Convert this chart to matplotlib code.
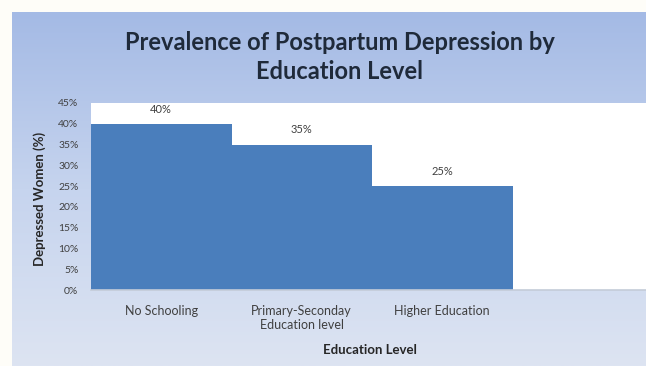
import numpy as np
import matplotlib
matplotlib.use("Agg")
import matplotlib.pyplot as plt
from matplotlib.colors import LinearSegmentedColormap

categories = ["No Schooling", "Primary-Seconday\nEducation level", "Higher Education"]
values = [40, 35, 25]
yticks = [0, 5, 10, 15, 20, 25, 30, 35, 40, 45]

plt.rcParams['font.family'] = ['Lato', 'DejaVu Sans']

W, H = 646, 366
fig = plt.figure(figsize=(W / 100, H / 100), dpi=100)
fig.patch.set_facecolor('#fefdf8')

# gradient background panel
bg = fig.add_axes([12 / W, 0, 1 - 12 / W, (H - 12) / H])
cmap = LinearSegmentedColormap.from_list('bg', ['#a4bae5', '#c6d4ee', '#dde4f2'])
grad = np.linspace(0, 1, 256).reshape(-1, 1)
bg.imshow(grad, aspect='auto', cmap=cmap, extent=[0, 1, 0, 1], origin='upper')
bg.set_axis_off()

ax = fig.add_axes([91 / W, (H - 290) / H, 1 - 91 / W, (290 - 103) / H])
ax.set_facecolor('white')
x = np.arange(len(categories))
bars = ax.bar(x, values, width=1.0, color='#4a7ebc', edgecolor='none')
ax.set_xlim(-0.5, -0.5 + (W - 91) / 140.5)
ax.set_ylim(0, 45)
ax.set_yticks(yticks)
ax.set_yticklabels([f"{t}%" for t in yticks], fontsize=7.5, color='#404040')
ax.set_xticks(x)
ax.set_xticklabels(categories, fontsize=9, color='#404040', va='top', linespacing=1.15)
ax.tick_params(axis='both', length=0)
ax.tick_params(axis='y', pad=9)
ax.tick_params(axis='x', pad=11)
for s in ['top', 'right', 'left']:
    ax.spines[s].set_visible(False)
ax.spines['bottom'].set_color('#c4ccd8')
ax.spines['bottom'].set_linewidth(1.2)

for xi, v in zip(x, values):
    ax.text(xi, v + 2.2, f"{v}%", ha='center', va='bottom', fontsize=8, color='#404040')

fig.text(40 / W, 1 - 199 / H, "Depressed Women (%)", rotation=90, ha='center', va='center',
         fontsize=9.5, fontweight='bold', color='#262626')
fig.text(370 / W, 1 - 350 / H, "Education Level", ha='center', va='center',
         fontsize=9.5, fontweight='bold', color='#262626')
fig.text(340 / W, 1 - 57 / H, "Prevalence of Postpartum Depression by\nEducation Level",
         ha='center', va='center', fontsize=17, fontweight='bold', color='#1f2a3a',
         linespacing=1.3)

fig.savefig('out.png', dpi=100, facecolor=fig.get_facecolor())
